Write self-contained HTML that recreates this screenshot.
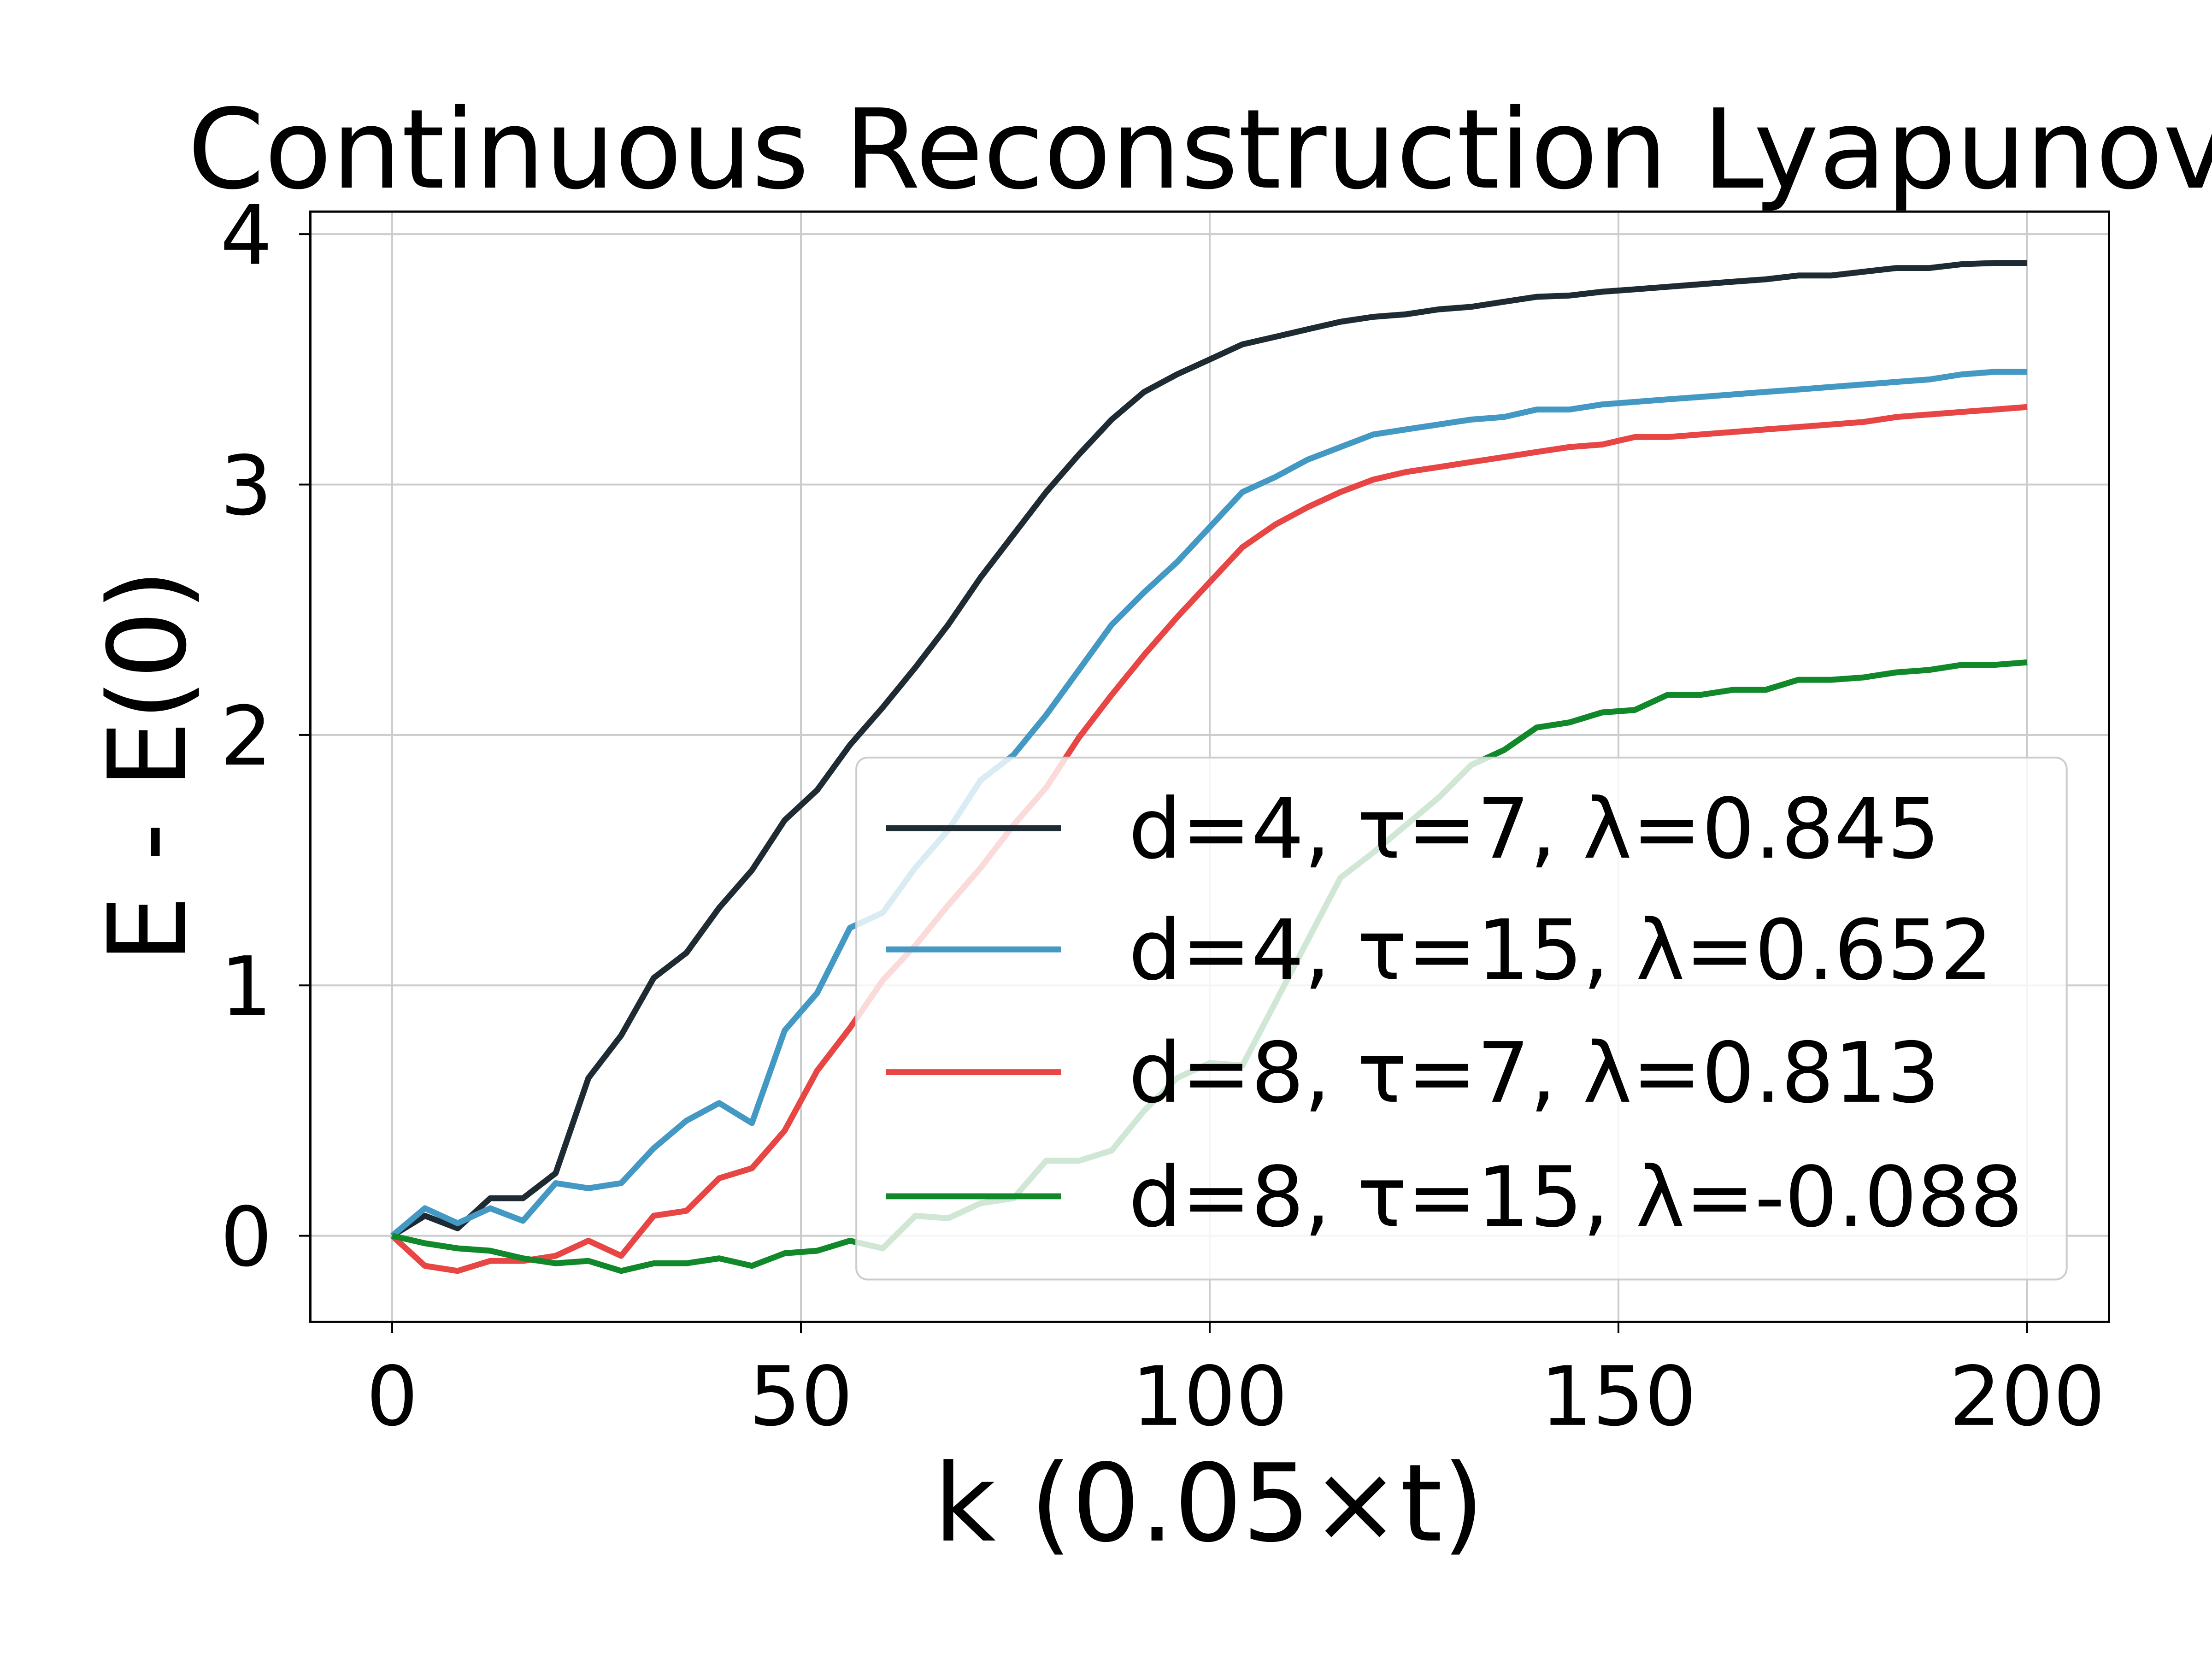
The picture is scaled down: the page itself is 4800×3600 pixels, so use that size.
<!DOCTYPE html>
<html><head><meta charset="utf-8"><style>
html,body{margin:0;padding:0;background:#fff}
svg{display:block}
text{font-family:"DejaVu Sans","Liberation Sans",sans-serif;fill:#000}
</style></head><body>
<svg id="chart" width="4800" height="3600" viewBox="0 0 1568 1176" xmlns="http://www.w3.org/2000/svg">
<rect width="1568" height="1176" fill="#fff"/>
<text x="133" y="133" font-size="78">Continuous Reconstruction Lyapunov</text>
<g id="grid"></g>
<g id="series"></g>
<rect x="220" y="150" width="1275" height="787" fill="none" stroke="#000" stroke-width="1.6"/>
<g id="ticks"></g>
<text x="857" y="1092" font-size="76" text-anchor="middle">k (0.05×t)</text>
<text transform="translate(131,543) rotate(-90)" font-size="76" text-anchor="middle">E - E(0)</text>
<g id="legend"></g>
</svg>
<script>
const kValues = [];
for (let i = 0; i <= 50; i++) kValues.push(i * 4);
const seriesLabels = ["d=4, τ=7, λ=0.845","d=4, τ=15, λ=0.652","d=8, τ=7, λ=0.813","d=8, τ=15, λ=-0.088"];
const seriesColors = ["#1f2b33","#4499c4","#e84545","#11882a"];
const blackVals = [0,0.08,0.03,0.15,0.15,0.25,0.63,0.8,1.03,1.13,1.31,1.46,1.66,1.78,1.96,2.11,2.27,2.44,2.63,2.8,2.97,3.12,3.26,3.37,3.44,3.50,3.56,3.59,3.62,3.65,3.67,3.68,3.70,3.71,3.73,3.75,3.755,3.77,3.78,3.79,3.80,3.81,3.82,3.835,3.835,3.85,3.865,3.865,3.88,3.885,3.885];
const blueVals = [0,0.11,0.05,0.11,0.06,0.21,0.19,0.21,0.35,0.46,0.53,0.45,0.82,0.97,1.23,1.29,1.47,1.62,1.82,1.92,2.08,2.26,2.44,2.57,2.69,2.83,2.97,3.03,3.10,3.15,3.20,3.22,3.24,3.26,3.27,3.30,3.30,3.32,3.33,3.34,3.35,3.36,3.37,3.38,3.39,3.40,3.41,3.42,3.44,3.45,3.45];
const redVals = [0,-0.12,-0.14,-0.10,-0.10,-0.08,-0.02,-0.08,0.08,0.10,0.23,0.27,0.42,0.66,0.83,1.02,1.16,1.32,1.47,1.64,1.79,1.99,2.16,2.32,2.47,2.61,2.75,2.84,2.91,2.97,3.02,3.05,3.07,3.09,3.11,3.13,3.15,3.16,3.19,3.19,3.20,3.21,3.22,3.23,3.24,3.25,3.27,3.28,3.29,3.30,3.31];
const greenVals = [0,-0.03,-0.05,-0.06,-0.09,-0.11,-0.10,-0.14,-0.11,-0.11,-0.09,-0.12,-0.07,-0.06,-0.02,-0.05,0.08,0.07,0.13,0.15,0.30,0.30,0.34,0.50,0.63,0.69,0.68,0.93,1.18,1.43,1.53,1.64,1.75,1.88,1.94,2.03,2.05,2.09,2.10,2.16,2.16,2.18,2.18,2.22,2.22,2.23,2.25,2.26,2.28,2.28,2.29];
const xTicks = [0,50,100,150,200];
const yTicks = [0,1,2,3,4];

const NS = "http://www.w3.org/2000/svg";
function X(v){ return 278 + (v/200)*(1437-278); }
function Y(v){ return 876 - (v/4)*(876-166); }
function mk(tag, attrs, parent){ const e=document.createElementNS(NS,tag); for(const k in attrs) e.setAttribute(k,attrs[k]); parent.appendChild(e); return e; }

const grid=document.getElementById('grid'), ticks=document.getElementById('ticks');
xTicks.forEach(t=>{
  const g=mk('line',{x1:X(t),x2:X(t),y1:150,y2:937,stroke:'#cccccc','stroke-width':1.3},grid);
   
  const tk=mk('line',{x1:X(t),x2:X(t),y1:937,y2:945,stroke:'#000','stroke-width':1.3},ticks);
   
  const tx=mk('text',{x:X(t),y:1010,'font-size':58,'text-anchor':'middle'},ticks);
  tx.textContent=t;
   
});
yTicks.forEach(t=>{
  const g=mk('line',{x1:220,x2:1495,y1:Y(t),y2:Y(t),stroke:'#cccccc','stroke-width':1.3},grid);
   
  const tk=mk('line',{x1:212,x2:220,y1:Y(t),y2:Y(t),stroke:'#000','stroke-width':1.3},ticks);
   
  const tx=mk('text',{x:193,y:Y(t)+21,'font-size':58,'text-anchor':'end'},ticks);
  tx.textContent=t;
   
});

const allVals=[blackVals,blueVals,redVals,greenVals];
const series=document.getElementById('series');
const seriesNames=['series-d4-tau7','series-d4-tau15','series-d8-tau7','series-d8-tau15'];
allVals.forEach((vals,i)=>{
  const pts=vals.map((v,j)=>X(kValues[j]).toFixed(1)+','+Y(v).toFixed(1)).join(' ');
  const p=mk('polyline',{points:pts,fill:'none',stroke:seriesColors[i],'stroke-width':4.2,'stroke-linejoin':'round'},series);
  
  
});

const legend=document.getElementById('legend');
const lb=mk('rect',{x:607,y:537,width:858,height:370,rx:8,fill:'#fff','fill-opacity':0.8,stroke:'#cccccc','stroke-width':1.3},legend);
 
const rowY=[587,673,760,848];
seriesLabels.forEach((lab,i)=>{
  const l=mk('line',{x1:628,x2:752,y1:rowY[i],y2:rowY[i],stroke:seriesColors[i],'stroke-width':4.2},legend);
   
  const t=mk('text',{x:800,y:rowY[i]+21,'font-size':59},legend);
  t.textContent=lab;
   
});
</script>
</body></html>
